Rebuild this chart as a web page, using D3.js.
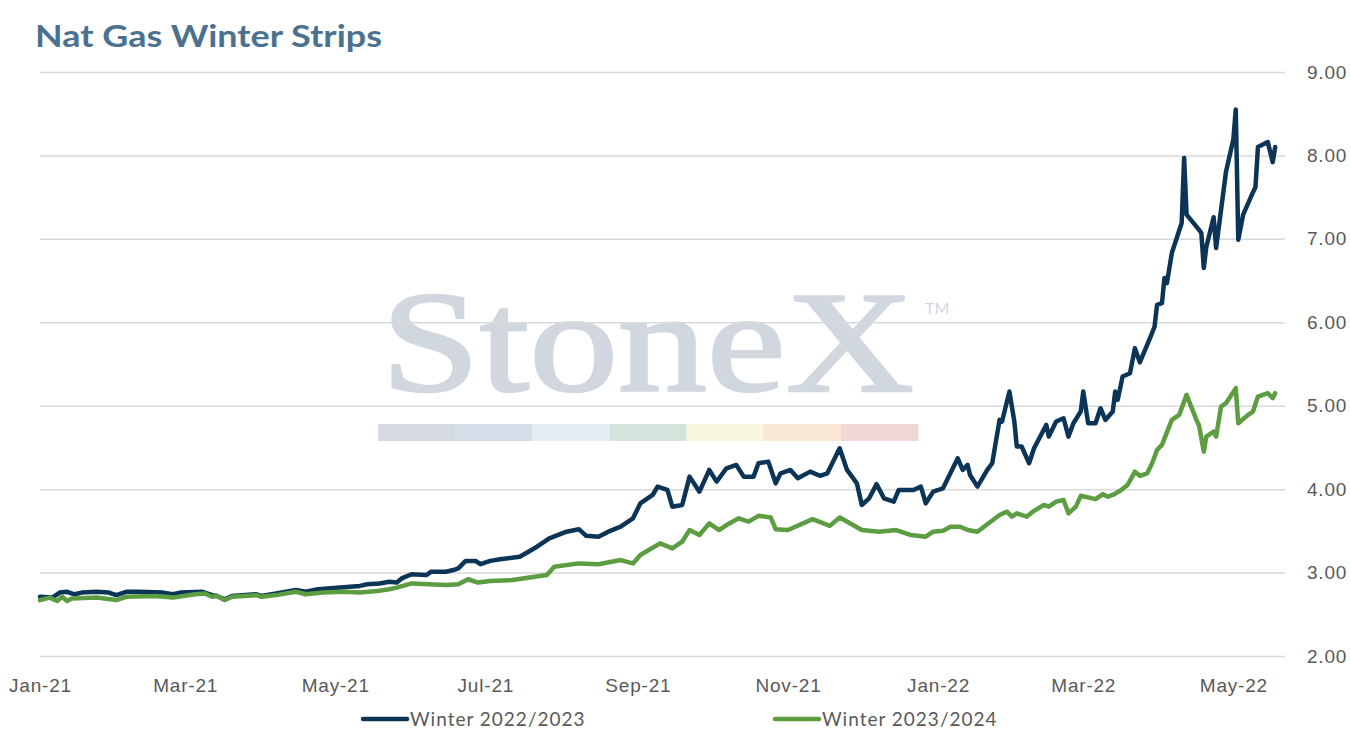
<!DOCTYPE html>
<html>
<head>
<meta charset="utf-8">
<script src="https://cdn.jsdelivr.net/npm/d3@7"></script>
<style>
  body { margin: 0; background: #fff; }
  svg { display: block; font-family: Lato, 'Open Sans', sans-serif; }
  .axis text { fill: #595959; font-size: 19px; letter-spacing: 0.8px; }
  .axis .domain { display: none; }
  .grid line { stroke: #d9d9d9; stroke-width: 1.5px; }
  .series { fill: none; stroke-width: 4.5px; stroke-linejoin: round; stroke-linecap: round; }
</style>
</head>
<body>
<div id="chart"></div>
<script>
// Winter 2022/2023 strip
const winter2223 = [
  ['2021-01-01', 2.71], ['2021-01-06', 2.70], ['2021-01-09', 2.76], ['2021-01-12', 2.77],
  ['2021-01-15', 2.74], ['2021-01-18', 2.76], ['2021-01-24', 2.77], ['2021-01-29', 2.76],
  ['2021-02-01', 2.73], ['2021-02-05', 2.77], ['2021-02-10', 2.77], ['2021-02-20', 2.76],
  ['2021-02-24', 2.74], ['2021-02-27', 2.76], ['2021-03-08', 2.77], ['2021-03-12', 2.73],
  ['2021-03-14', 2.72], ['2021-03-17', 2.68], ['2021-03-20', 2.72], ['2021-03-30', 2.74],
  ['2021-04-01', 2.72], ['2021-04-07', 2.75], ['2021-04-15', 2.79], ['2021-04-19', 2.77],
  ['2021-04-24', 2.80], ['2021-05-03', 2.82], ['2021-05-11', 2.84], ['2021-05-14', 2.86],
  ['2021-05-19', 2.87], ['2021-05-23', 2.89], ['2021-05-26', 2.88], ['2021-05-28', 2.93],
  ['2021-06-01', 2.98], ['2021-06-07', 2.97], ['2021-06-09', 3.01], ['2021-06-15', 3.01],
  ['2021-06-18', 3.03], ['2021-06-20', 3.05], ['2021-06-23', 3.14], ['2021-06-27', 3.14],
  ['2021-06-29', 3.10], ['2021-07-03', 3.14], ['2021-07-07', 3.16], ['2021-07-15', 3.19],
  ['2021-07-22', 3.31], ['2021-07-27', 3.41], ['2021-08-03', 3.49], ['2021-08-08', 3.52],
  ['2021-08-11', 3.44], ['2021-08-16', 3.43], ['2021-08-20', 3.49], ['2021-08-25', 3.55],
  ['2021-08-30', 3.65], ['2021-09-02', 3.83], ['2021-09-07', 3.93], ['2021-09-09', 4.03],
  ['2021-09-13', 3.99], ['2021-09-15', 3.79], ['2021-09-19', 3.81], ['2021-09-22', 4.15],
  ['2021-09-26', 3.97], ['2021-09-30', 4.23], ['2021-10-03', 4.09], ['2021-10-07', 4.25],
  ['2021-10-11', 4.29], ['2021-10-14', 4.15], ['2021-10-18', 4.15], ['2021-10-20', 4.31],
  ['2021-10-24', 4.33], ['2021-10-27', 4.07], ['2021-10-29', 4.19], ['2021-11-02', 4.23],
  ['2021-11-05', 4.13], ['2021-11-10', 4.21], ['2021-11-14', 4.16], ['2021-11-17', 4.19],
  ['2021-11-19', 4.31], ['2021-11-22', 4.49], ['2021-11-25', 4.23], ['2021-11-29', 4.07],
  ['2021-12-01', 3.81], ['2021-12-04', 3.89], ['2021-12-07', 4.06], ['2021-12-10', 3.89],
  ['2021-12-14', 3.85], ['2021-12-16', 3.99], ['2021-12-22', 3.99], ['2021-12-25', 4.03],
  ['2021-12-27', 3.83], ['2021-12-30', 3.97], ['2022-01-03', 4.01], ['2022-01-09', 4.37],
  ['2022-01-11', 4.23], ['2022-01-13', 4.29], ['2022-01-14', 4.17], ['2022-01-17', 4.03],
  ['2022-01-21', 4.23], ['2022-01-23', 4.31], ['2022-01-26', 4.83], ['2022-01-27', 4.81],
  ['2022-01-30', 5.17], ['2022-02-01', 4.81], ['2022-02-02', 4.51], ['2022-02-04', 4.51],
  ['2022-02-07', 4.31], ['2022-02-09', 4.49], ['2022-02-14', 4.77], ['2022-02-15', 4.63],
  ['2022-02-18', 4.81], ['2022-02-21', 4.85], ['2022-02-23', 4.63], ['2022-02-25', 4.79],
  ['2022-02-28', 4.93], ['2022-03-01', 5.17], ['2022-03-03', 4.79], ['2022-03-06', 4.79],
  ['2022-03-08', 4.97], ['2022-03-10', 4.83], ['2022-03-13', 4.93], ['2022-03-14', 5.17],
  ['2022-03-15', 5.07], ['2022-03-17', 5.35], ['2022-03-20', 5.39], ['2022-03-22', 5.69],
  ['2022-03-24', 5.52], ['2022-03-28', 5.80], ['2022-03-30', 5.95], ['2022-03-31', 6.21],
  ['2022-04-02', 6.23], ['2022-04-03', 6.53], ['2022-04-04', 6.47], ['2022-04-06', 6.83],
  ['2022-04-10', 7.19], ['2022-04-11', 7.97], ['2022-04-12', 7.29], ['2022-04-17', 7.11],
  ['2022-04-18', 7.07], ['2022-04-19', 6.65], ['2022-04-20', 6.90], ['2022-04-23', 7.26],
  ['2022-04-24', 6.89], ['2022-04-28', 7.80], ['2022-05-01', 8.19], ['2022-05-02', 8.55],
  ['2022-05-03', 6.99], ['2022-05-05', 7.29], ['2022-05-09', 7.56], ['2022-05-10', 7.62],
  ['2022-05-11', 8.10], ['2022-05-15', 8.16], ['2022-05-17', 7.92], ['2022-05-18', 8.10]
];

// Winter 2023/2024 strip
const winter2324 = [
  ['2021-01-01', 2.67], ['2021-01-05', 2.70], ['2021-01-08', 2.66], ['2021-01-10', 2.71],
  ['2021-01-12', 2.66], ['2021-01-14', 2.69], ['2021-01-24', 2.70], ['2021-02-01', 2.67],
  ['2021-02-05', 2.71], ['2021-02-17', 2.72], ['2021-02-24', 2.70], ['2021-03-05', 2.74],
  ['2021-03-09', 2.75], ['2021-03-12', 2.71], ['2021-03-14', 2.72], ['2021-03-17', 2.67],
  ['2021-03-20', 2.71], ['2021-03-30', 2.73], ['2021-04-01', 2.71], ['2021-04-07', 2.73],
  ['2021-04-15', 2.77], ['2021-04-19', 2.74], ['2021-04-26', 2.76], ['2021-05-04', 2.77],
  ['2021-05-11', 2.76], ['2021-05-18', 2.78], ['2021-05-23', 2.80], ['2021-05-26', 2.82],
  ['2021-06-01', 2.87], ['2021-06-08', 2.86], ['2021-06-15', 2.85], ['2021-06-20', 2.86],
  ['2021-06-24', 2.92], ['2021-06-28', 2.88], ['2021-07-03', 2.90], ['2021-07-12', 2.91],
  ['2021-07-26', 2.97], ['2021-07-29', 3.07], ['2021-08-08', 3.11], ['2021-08-16', 3.10],
  ['2021-08-25', 3.15], ['2021-08-30', 3.11], ['2021-09-02', 3.21], ['2021-09-10', 3.35],
  ['2021-09-15', 3.29], ['2021-09-19', 3.37], ['2021-09-22', 3.51], ['2021-09-26', 3.45],
  ['2021-09-30', 3.59], ['2021-10-04', 3.51], ['2021-10-07', 3.57], ['2021-10-12', 3.65],
  ['2021-10-16', 3.61], ['2021-10-20', 3.68], ['2021-10-25', 3.66], ['2021-10-27', 3.52],
  ['2021-11-01', 3.51], ['2021-11-11', 3.64], ['2021-11-18', 3.56], ['2021-11-22', 3.66],
  ['2021-12-01', 3.51], ['2021-12-08', 3.49], ['2021-12-15', 3.51], ['2021-12-21', 3.45],
  ['2021-12-27', 3.43], ['2021-12-30', 3.49], ['2022-01-03', 3.50], ['2022-01-06', 3.55],
  ['2022-01-10', 3.55], ['2022-01-13', 3.51], ['2022-01-17', 3.49], ['2022-01-21', 3.58],
  ['2022-01-26', 3.69], ['2022-01-29', 3.73], ['2022-01-31', 3.67], ['2022-02-02', 3.71],
  ['2022-02-06', 3.67], ['2022-02-09', 3.74], ['2022-02-13', 3.81], ['2022-02-15', 3.79],
  ['2022-02-18', 3.85], ['2022-02-21', 3.87], ['2022-02-23', 3.71], ['2022-02-26', 3.79],
  ['2022-02-28', 3.92], ['2022-03-06', 3.88], ['2022-03-09', 3.94], ['2022-03-11', 3.91],
  ['2022-03-13', 3.93], ['2022-03-16', 3.98], ['2022-03-19', 4.05], ['2022-03-22', 4.21],
  ['2022-03-24', 4.16], ['2022-03-27', 4.19], ['2022-03-29', 4.31], ['2022-03-31', 4.47],
  ['2022-04-02', 4.53], ['2022-04-06', 4.83], ['2022-04-09', 4.89], ['2022-04-12', 5.13],
  ['2022-04-16', 4.83], ['2022-04-17', 4.77], ['2022-04-19', 4.45], ['2022-04-20', 4.63],
  ['2022-04-23', 4.69], ['2022-04-24', 4.63], ['2022-04-26', 4.99], ['2022-04-28', 5.03],
  ['2022-05-02', 5.21], ['2022-05-03', 4.79], ['2022-05-07', 4.89], ['2022-05-09', 4.93],
  ['2022-05-11', 5.11], ['2022-05-15', 5.15], ['2022-05-17', 5.09], ['2022-05-18', 5.15]
];

const seriesNames = ['Winter 2022/2023', 'Winter 2023/2024'];
const seriesColors = ['#0c3457', '#5b9d40'];
const xTicks = ['2021-01-01', '2021-03-01', '2021-05-01', '2021-07-01', '2021-09-01',
                '2021-11-01', '2022-01-01', '2022-03-01', '2022-05-01'];
const yTicks = [2, 3, 4, 5, 6, 7, 8, 9];
const xDomain = ['2021-01-01', '2022-05-22'];
const logoColors = ['#d5dae2', '#d4dee9', '#e2edf5', '#d4e4dc', '#f8f7df', '#f8e8d4', '#f2d7d8'];

const width = 1351, height = 743;
const plot = {left: 40, right: 1285, top: 72, bottom: 656};
const parse = d3.timeParse('%Y-%m-%d');

const svg = d3.select('#chart').append('svg')
  .attr('width', width)
  .attr('height', height);

const x = d3.scaleTime()
  .domain(xDomain.map(parse))
  .range([plot.left, plot.right]);
const y = d3.scaleLinear()
  .domain([2, 9])
  .range([plot.bottom, plot.top]);

// Title
svg.append('text')
  .attr('x', 35)
  .attr('y', 47)
  .attr('textLength', 347)
  .attr('lengthAdjust', 'spacingAndGlyphs')
  .style('font-size', '31px')
  .style('font-weight', 700)
  .style('fill', '#4b7190')
  .text('Nat Gas Winter Strips');

// StoneX watermark, under the grid
const wm = svg.append('g').attr('class', 'watermark');
wm.append('text')
  .attr('x', 381)
  .attr('y', 391)
  .attr('textLength', 533)
  .attr('lengthAdjust', 'spacingAndGlyphs')
  .style('font-family', "'Liberation Serif', 'DejaVu Serif', serif")
  .style('font-size', '145px')
  .style('fill', '#d1d7df')
  .style('stroke', '#d1d7df')
  .style('stroke-width', 2.5)
  .text('StoneX');
wm.append('text')
  .attr('x', 925)
  .attr('y', 314)
  .style('font-size', '16px')
  .style('fill', '#d1d7df')
  .text('TM');
const band = d3.scaleBand()
  .domain(d3.range(logoColors.length))
  .range([378, 918]);
wm.selectAll('rect')
  .data(logoColors)
  .enter().append('rect')
  .attr('x', (_, i) => band(i))
  .attr('y', 424)
  .attr('width', band.bandwidth() + 0.5)
  .attr('height', 17)
  .style('fill', d => d);

// Grid + right-hand labels in one axis
svg.append('g')
  .attr('class', 'axis grid')
  .attr('transform', `translate(${plot.left},0)`)
  .call(d3.axisRight(y)
        .tickValues(yTicks)
        .tickSize(plot.right - plot.left)
        .tickPadding(22)
        .tickFormat(d3.format('.2f')));

svg.append('g')
  .attr('class', 'axis')
  .attr('transform', `translate(0,${plot.bottom})`)
  .call(d3.axisBottom(x)
        .tickValues(xTicks.map(parse))
        .tickSize(0)
        .tickPadding(23)
        .tickFormat(d3.timeFormat('%b-%y')));

// Lines
const line = d3.line()
  .x(d => x(parse(d[0])))
  .y(d => y(d[1]));
svg.append('g')
  .selectAll('path')
  .data([winter2223, winter2324])
  .enter().append('path')
  .attr('class', 'series')
  .style('stroke', (_, i) => seriesColors[i])
  .attr('d', line);

// Legend
const legend = svg.append('g')
  .selectAll('g')
  .data(seriesNames)
  .enter().append('g')
  .attr('transform', (_, i) => `translate(${[363, 775][i]},719)`);
legend.append('line')
  .attr('x2', 44)
  .style('stroke', (_, i) => seriesColors[i])
  .style('stroke-width', 4.5)
  .style('stroke-linecap', 'round');
legend.append('text')
  .attr('x', 47)
  .attr('dy', '.35em')
  .style('font-size', '19px')
  .style('letter-spacing', '1px')
  .style('fill', '#595959')
  .text(d => d);
</script>
</body>
</html>
